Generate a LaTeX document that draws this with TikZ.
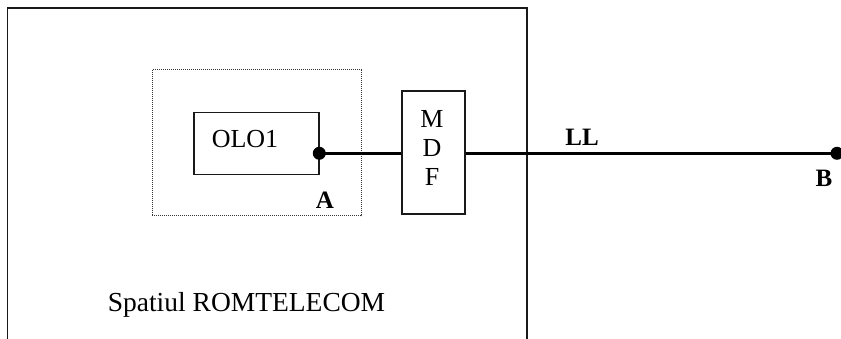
\documentclass[tikz,border=0pt]{standalone}
\usepackage{fontspec}
\setmainfont{Liberation Serif}
\begin{document}
\begin{tikzpicture}[x=1pt,y=-1pt,
  box/.style={draw=black!90, line width=1.7pt, inner sep=0pt},
  txt/.style={inner sep=0pt, font=\fontsize{26}{29}\selectfont},
  btxt/.style={inner sep=0pt, font=\fontsize{25}{29}\selectfont\bfseries},
  wire/.style={line width=3.3pt},
  area/.style={draw=black!90, line width=1.7pt},
  zone/.style={draw=black!80, line width=1pt, dash pattern=on 1pt off 1pt},
  joint/.style={fill=black}]
\useasboundingbox (0,0) rectangle (841,339);

% premises of the operator (open at the bottom)
\draw[area] (7.5,345) -- (7.5,7.7) -- (526.7,7.7) -- (526.7,345);
\node[txt, font=\fontsize{27.5}{30}\selectfont] (space) at (246.5,305) {Spatiul ROMTELECOM};

% dotted zone around the equipment
\draw[zone] (152,70) rectangle (361,216);

% equipment box
\node[box, minimum width=125pt, minimum height=62pt] (olo) at (256.5,143.5) {};
\node[txt] (olotext) at (245,139) {OLO1};

% distribution frame
\node[box, minimum width=63pt, minimum height=123pt] (mdf) at (433.5,152.5) {};
\node[txt, align=center] (mdftext) at (432,148) {M\\D\\F};

% end points of the line
\coordinate (pa) at (319.3,153.3);
\coordinate (pb) at (837,153.3);

\draw[wire] (pa) -- (pa -| mdf.west);
\draw[wire] (pa -| mdf.east) -- (pb);
\fill[joint] (pa) circle (6.5);
\fill[joint] (pb) circle (6.5);

\node[btxt] (la) at (325,200.5) {A};
\node[btxt] (ll) at (582,137) {LL};
\node[btxt] (lb) at (824,178) {B};
\end{tikzpicture}
\end{document}
